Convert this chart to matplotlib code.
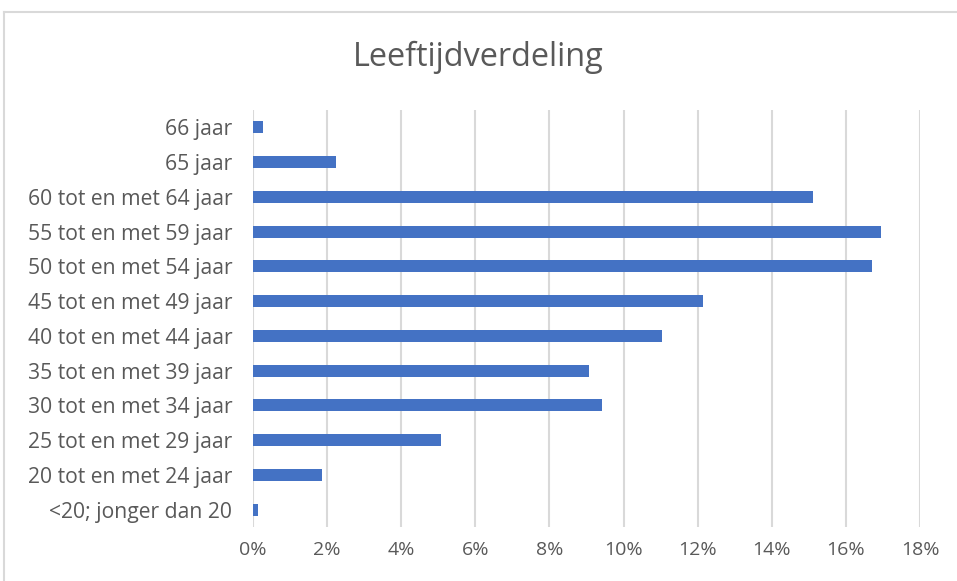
import matplotlib.pyplot as plt
from matplotlib.lines import Line2D
from matplotlib.ticker import PercentFormatter

categories = ["<20; jonger dan 20", "20 tot en met 24 jaar", "25 tot en met 29 jaar",
              "30 tot en met 34 jaar", "35 tot en met 39 jaar", "40 tot en met 44 jaar",
              "45 tot en met 49 jaar", "50 tot en met 54 jaar", "55 tot en met 59 jaar",
              "60 tot en met 64 jaar", "65 jaar", "66 jaar"]
shares = [0.14, 1.87, 5.08, 9.42, 9.07, 11.04, 12.15, 16.71, 16.95, 15.12, 2.25, 0.28]

plt.rcParams["font.family"] = ["Open Sans", "DejaVu Sans"]
grey = "#595959"

fig = plt.figure(figsize=(9.57, 5.81), dpi=100)
ax = fig.add_axes([253/957, 1-527/581, (920-253)/957, (527-110)/581])

y = range(len(categories))
ax.barh(y, shares, height=0.35, color="#4472C4", zorder=3)

ax.set_xlim(0, 18)
ax.set_ylim(-0.5, len(categories) - 0.5)
ax.set_xticks(range(0, 19, 2))
ax.xaxis.set_major_formatter(PercentFormatter(decimals=0))
ax.set_yticks(list(y))
ax.set_yticklabels(categories)
ax.tick_params(axis="both", length=0, colors=grey)
ax.tick_params(axis="y", pad=15, labelsize=15.2)
ax.tick_params(axis="x", pad=10, labelsize=14)
ax.grid(axis="x", color="#D9D9D9", linewidth=1.5, zorder=0)
for s in ax.spines.values():
    s.set_visible(False)

fig.text(0.5, 1-57/581, "Leeftijdverdeling", ha="center", va="center",
         fontsize=23.4, color=grey)

# outer chart frame
fig.add_artist(Line2D([4/957, 4/957], [0, 1-12/581], color="#D9D9D9", lw=1.5))
fig.add_artist(Line2D([4/957, 1], [1-12/581, 1-12/581], color="#D9D9D9", lw=1.5))

fig.savefig("out.png", dpi=100, facecolor="white")
